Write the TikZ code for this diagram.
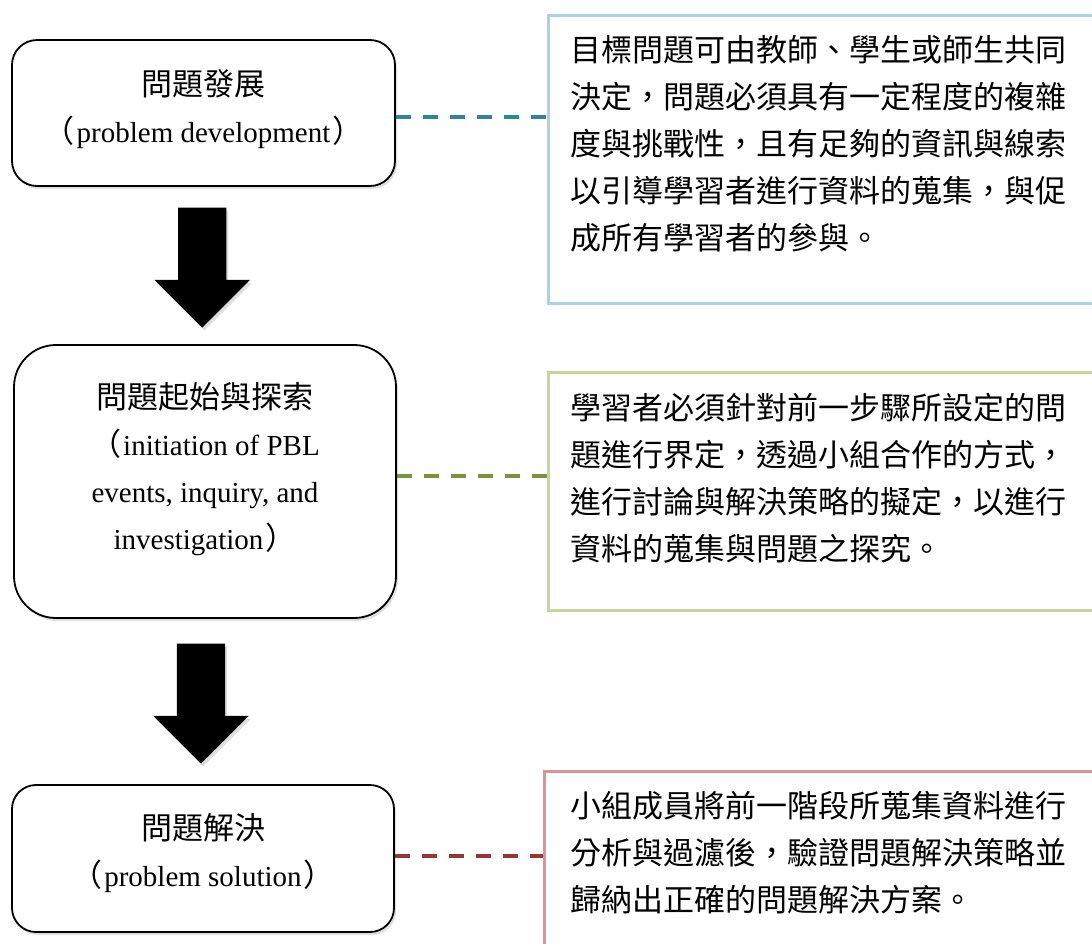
\documentclass[tikz,border=0pt]{standalone}
\usepackage{fontspec}
\setmainfont{Liberation Serif}
\newfontfamily\cjk{Noto Sans CJK TC}
\usetikzlibrary{shapes.arrows,shadows,calc}
\definecolor{blueD}{HTML}{31849B}
\definecolor{blueB}{HTML}{A9D4E0}
\definecolor{greenD}{HTML}{77933C}
\definecolor{greenB}{HTML}{C3D69B}
\definecolor{redD}{HTML}{953735}
\definecolor{redB}{HTML}{D99694}
\newcommand{\zh}[1]{{\cjk\fontsize{31}{47}\selectfont #1}}
\newcommand{\lp}{\zh{（}\hspace{2pt}}
\newcommand{\rp}{\hspace{2pt}\zh{）}}
\begin{document}
\begin{tikzpicture}[x=1pt,y=-1pt,
  lbox/.style={draw=black,line width=1.8pt,fill=white,rectangle,
    drop shadow={shadow xshift=2pt,shadow yshift=-3pt,opacity=0.25},
    inner sep=0pt},
  ltext/.style={align=center,inner sep=0pt,
    font=\fontsize{29}{47}\selectfont},
  rbox/.style={rectangle,line width=2.6pt,inner sep=0pt,anchor=north west},
  rtext/.style={anchor=north west,inner sep=0pt,align=left,
    font=\cjk\fontsize{31}{47}\selectfont},
  dashlink/.style={line width=4pt,dash pattern=on 15pt off 12pt},
  bigarrow/.style={single arrow,fill=black,draw=none,rotate=-90,
    minimum height=120pt,inner xsep=0pt,inner ysep=24pt,
    single arrow head extend=23.5pt,
    drop shadow={shadow xshift=2pt,shadow yshift=-3pt,opacity=0.25}}
]
\useasboundingbox (0,0) rectangle (1092,943);
\clip (0,0) rectangle (1092,943);

% left boxes
\node[lbox,rounded corners=25pt,minimum width=383pt,minimum height=146pt] (lb1) at (203.5,113) {};
\node[lbox,rounded corners=42pt,minimum width=382pt,minimum height=273pt] (lb2) at (205,481.5) {};
\node[lbox,rounded corners=24pt,minimum width=382pt,minimum height=147pt] (lb3) at (203,858.5) {};

\node[ltext] (lt1) at ([yshift=4pt]lb1.center) {\zh{問題發展}\\\lp problem development\rp};
\node[ltext] (lt2) at ([yshift=12pt]lb2.center) {\zh{問題起始與探索}\\\lp initiation of PBL\\events, inquiry, and\\investigation\rp};
\node[ltext] (lt3) at ([yshift=5pt]lb3.center) {\zh{問題解決}\\\lp problem solution\rp};

% right boxes
\node[rbox,draw=blueB,minimum width=580pt,minimum height=288pt] (rb1) at (547,14) {};
\node[rbox,draw=greenB,minimum width=580pt,minimum height=238pt] (rb2) at (547,371) {};
\node[rbox,draw=redB,minimum width=580pt,minimum height=200pt] (rb3) at (543,770) {};

\node[rtext] (rt1) at (570,35) {目標問題可由教師、學生或師生共同\\決定，問題必須具有一定程度的複雜\\度與挑戰性，且有足夠的資訊與線索\\以引導學習者進行資料的蒐集，與促\\成所有學習者的參與。};
\node[rtext] (rt2) at (570,393) {學習者必須針對前一步驟所設定的問\\題進行界定，透過小組合作的方式，\\進行討論與解決策略的擬定，以進行\\資料的蒐集與問題之探究。};
\node[rtext] (rt3) at (570,791) {小組成員將前一階段所蒐集資料進行\\分析與過濾後，驗證問題解決策略並\\歸納出正確的問題解決方案。};

% dashed connectors
\draw[dashlink,draw=blueD] ([yshift=-4pt]lb1.east) -- ([yshift=-4pt]lb1.east -| rb1.west);
\draw[dashlink,draw=greenD] ([yshift=6pt]lb2.east) -- ([yshift=6pt]lb2.east -| rb2.west);
\draw[dashlink,draw=redD] ([yshift=3pt]lb3.east) -- ([yshift=3pt]lb3.east -| rb3.west);

% block arrows
\node[bigarrow] (a1) at ($(lb1.south)!0.5!(lb2.north)+(-2,-10)$) {};
\node[bigarrow] (a2) at ($(lb2.south)!0.5!(lb3.north)+(-3,-10)$) {};
\end{tikzpicture}
\end{document}
